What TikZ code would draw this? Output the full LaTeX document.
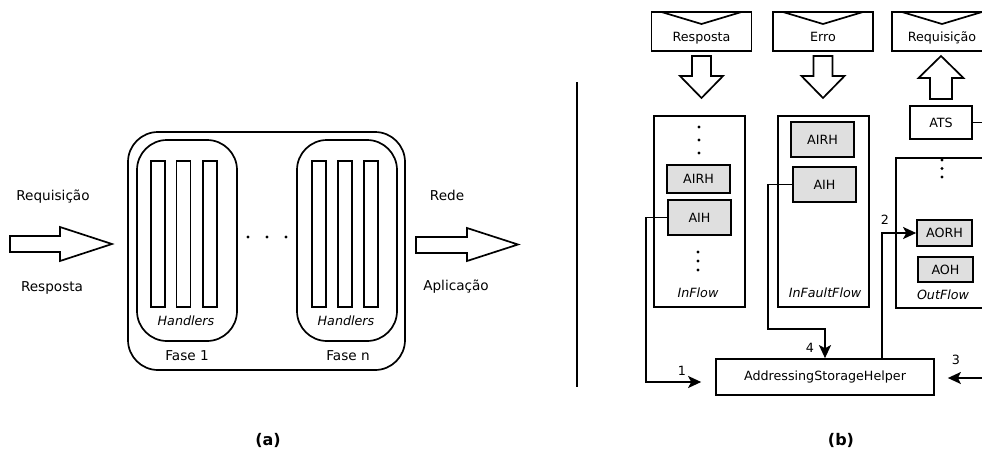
\documentclass[tikz,border=0pt]{standalone}
\usepackage{fontspec}
\setmainfont{DejaVu Sans}
\usetikzlibrary{arrows.meta}

\tikzset{
  box/.style={draw,line width=1.7pt,inner sep=0pt},
  hbox/.style={box,fill=gray!25},
  envbox/.style={box,minimum width=100pt,minimum height=39pt,text height=23pt,text depth=3pt,
    path picture={\draw[line width=1.7pt] ([xshift=10pt]path picture bounding box.north west)
      -- ([yshift=-12pt]path picture bounding box.north) -- ([xshift=-10pt]path picture bounding box.north east);}},
  fatarrow/.style={draw,line width=1.7pt,fill=white,line join=miter},
  wire/.style={line width=1.6pt,-{Stealth[length=13pt,width=12pt,inset=3pt]}},
  txt/.style={font=\fontsize{12.7}{15}\selectfont,inner sep=0pt},
  itxt/.style={font=\fontsize{12.7}{15}\selectfont\itshape,inner sep=0pt},
  big/.style={font=\fontsize{13.6}{16}\selectfont,inner sep=0pt},
}

\begin{document}
\begin{tikzpicture}[x=1pt,y=-1pt]
\clip (0,0) rectangle (982,456);
\fill[white] (0,0) rectangle (982,456);
% (a) chain of phases
\node[box,rounded corners=30pt,minimum width=277pt,minimum height=238pt] (chain) at (266.5,251) {};
\node[box,rounded corners=30pt,minimum width=100pt,minimum height=201pt] (fase1) at (187,240.5) {};
\node[box,rounded corners=30pt,minimum width=100pt,minimum height=201pt] (fasen) at (347,240.5) {};
\foreach \x [count=\i] in {158,183.5,210,319,345,371}
  \node[box,minimum width=14pt,minimum height=146pt] (bar\i) at (\x,234) {};
\node[itxt] (hand1) at (186,321) {Handlers};
\node[itxt] (handn) at (346,321) {Handlers};
\node[big] (nome1) at (187,356) {Fase 1};
\node[big] (nomen) at (348,356) {Fase n};
\foreach \x in {248,267,286} \fill (\x,237) circle (1.7pt);
\draw[fatarrow] (10,236) -- (60,236) -- (60,227) -- (112,244) -- (60,261) -- (60,252) -- (10,252) -- cycle;
\draw[fatarrow] (416,237) -- (467,237) -- (467,228) -- (518,244.5) -- (467,261) -- (467,253) -- (416,253) -- cycle;
\node[big] (req) at (53,197) {Requisição};
\node[big] (resp) at (52,288) {Resposta};
\node[big] (rede) at (447,195) {Rede};
\node[big] (apl) at (456,287) {Aplicação};
\draw[line width=1.6pt] (577,82) -- (577,387);
\node[font=\fontsize{16}{18}\selectfont\bfseries] (capa) at (268,440) {(a)};
\node[font=\fontsize{16}{18}\selectfont\bfseries] (capb) at (841,440) {(b)};
% (b) flows and messages
\node[envbox,txt] (envresp) at (701.5,31.5) {Resposta};
\node[envbox,txt] (enverro) at (823,31.5) {Erro};
\node[envbox,txt] (envreq) at (942,31.5) {Requisição};
\foreach \c in {701.5,823}
  \draw[fatarrow,shift={(\c,56)}] (-9.5,0) -- (9.5,0) -- (9.5,20) -- (21.5,20) -- (0,42) -- (-21.5,20) -- (-9.5,20) -- cycle;
\draw[fatarrow,shift={(941,99)}] (-11,0) -- (11,0) -- (11,-21) -- (22.5,-21) -- (0,-43) -- (-22.5,-21) -- (-11,-21) -- cycle;
\node[box,txt,minimum width=62pt,minimum height=33pt] (ats) at (941,122.5) {ATS};
\coordinate (atsout) at (990,122.5);
\draw[line width=1.6pt] (ats.east) -- (atsout);
\node[box,minimum width=91pt,minimum height=191pt] (inflow) at (699.5,211.5) {};
\node[box,minimum width=91pt,minimum height=191pt] (infault) at (823.5,211.5) {};
\node[box,minimum width=91pt,minimum height=150pt] (outflow) at (941.5,233) {};
\node[itxt] (inflowlbl) at (698,293) {InFlow};
\node[itxt] (infaultlbl) at (825,293) {InFaultFlow};
\node[itxt] (outflowlbl) at (943,295) {OutFlow};
\node[hbox,txt,minimum width=63pt,minimum height=28pt] (inairh) at (698.5,179) {AIRH};
\node[hbox,txt,minimum width=63pt,minimum height=35pt] (inaih) at (699.5,217.5) {AIH};
\node[hbox,txt,minimum width=63pt,minimum height=35pt] (fairh) at (822.5,139.5) {AIRH};
\node[hbox,txt,minimum width=63pt,minimum height=35pt] (faih) at (824.5,184.5) {AIH};
\node[hbox,txt,minimum width=55pt,minimum height=26pt] (aorh) at (944.5,233) {AORH};
\node[hbox,txt,minimum width=55pt,minimum height=25pt] (aoh) at (945.5,269.5) {AOH};
\foreach \y in {127,140,153} \fill (699,\y) circle (1.7pt);
\foreach \y in {252,261,270} \fill (698,\y) circle (1.7pt);
\foreach \y in {160,168.5,177} \fill (942,\y) circle (1.7pt);
\node[box,txt,minimum width=218pt,minimum height=36pt] (ash) at (825,377) {AddressingStorageHelper};
% connectors
\draw[wire,shorten >=14pt] (inaih.west) -- ++(-21,0) |- ([yshift=-5pt]ash.west);
\node[txt] (n1) at (682,371) {1};
\coordinate (k4) at (768,329);
\draw[wire] (faih.west) -| (k4) -| (ash.north);
\node[txt] (n4) at (810,348) {4};
\draw[wire] ([xshift=57pt]ash.north) |- (aorh.west);
\node[txt] (n2) at (885,220) {2};
\coordinate (helperin) at (990,378);
\draw[wire,shorten >=13pt] (helperin) -- (ash.east |- helperin);
\node[txt] (n3) at (956,360) {3};
\end{tikzpicture}
\end{document}
